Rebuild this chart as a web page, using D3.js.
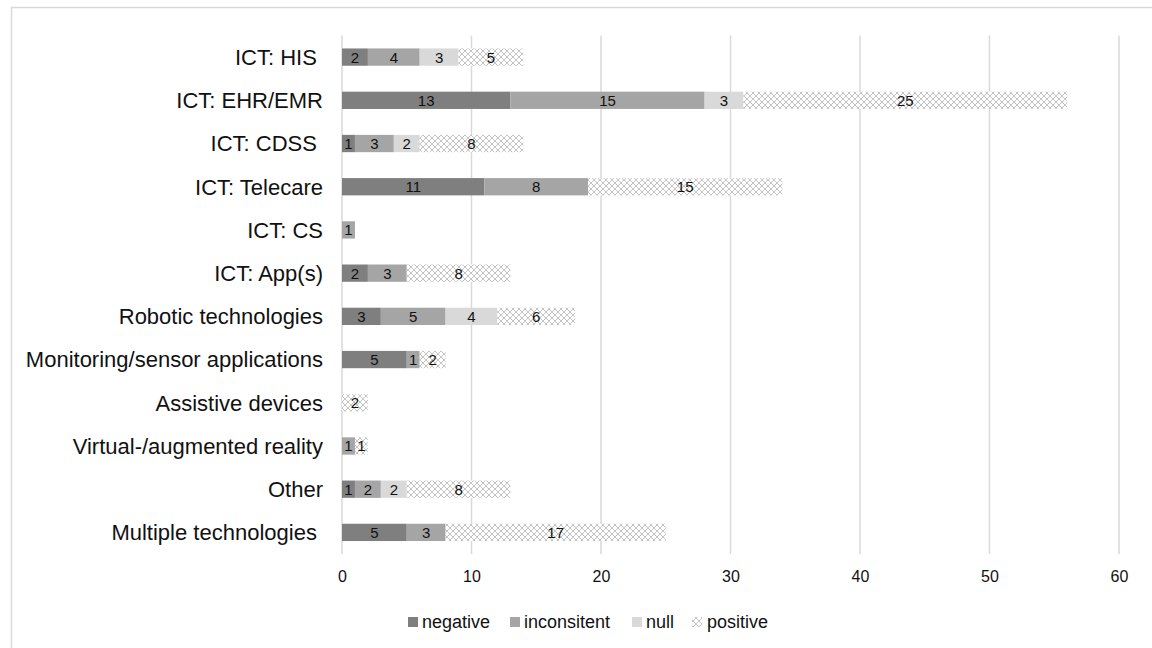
<!DOCTYPE html>
<html>
<head>
<meta charset="utf-8">
<script src="https://cdn.jsdelivr.net/npm/d3@7"></script>
<style>
  html, body { margin: 0; padding: 0; background: #fff; }
  svg { display: block; font-family: "Liberation Sans", Arial, sans-serif; }
  text { white-space: pre; }
</style>
</head>
<body>
<svg id="chart" width="1152" height="648"></svg>
<script>
// Categories (top to bottom) and the count of findings per outcome
const categories = [
  "ICT: HIS ", "ICT: EHR/EMR", "ICT: CDSS ", "ICT: Telecare", "ICT: CS",
  "ICT: App(s)", "Robotic technologies", "Monitoring/sensor applications",
  "Assistive devices", "Virtual-/augmented reality", "Other", "Multiple technologies "
];
const seriesNames = ["negative", "inconsitent", "null", "positive"];
const negative    = [2, 13, 1, 11, 0, 2, 3, 5, 0, 0, 1, 5];
const inconsitent = [4, 15, 3, 8, 1, 3, 5, 1, 0, 1, 2, 3];
const nullVals    = [3, 3, 2, 0, 0, 0, 4, 0, 0, 0, 2, 0];
const positive    = [5, 25, 8, 15, 0, 8, 6, 2, 2, 1, 8, 17];
const xTicks = [0, 10, 20, 30, 40, 50, 60];

const svg = d3.select("#chart");
const W = 1152, H = 648;

// chart frame
svg.append("rect")
  .attr("x", 11.5).attr("y", 7.5)
  .attr("width", W + 20).attr("height", H + 20)
  .attr("fill", "#fff").attr("stroke", "#d9d9d9").attr("stroke-width", 1.5);

// fine hatch pattern used for the "positive" series
const defs = svg.append("defs");
const pat = defs.append("pattern")
  .attr("id", "posPattern").attr("patternUnits", "userSpaceOnUse")
  .attr("width", 6).attr("height", 6);
pat.append("rect").attr("width", 6).attr("height", 6).attr("fill", "#ffffff");
for (let i = 0; i < 6; i++) {
  pat.append("rect").attr("x", i).attr("y", i).attr("width", 1).attr("height", 1).attr("fill", "#c4c4c4");
  pat.append("rect").attr("x", 5 - i).attr("y", i).attr("width", 1).attr("height", 1).attr("fill", "#c4c4c4");
}

const fills = {
  negative: "#7f7f7f",
  inconsitent: "#a5a5a5",
  null: "#d9d9d9",
  positive: "url(#posPattern)"
};

const plot = { left: 342, right: 1119, top: 35.5, bottom: 554 };

const x = d3.scaleLinear().domain([0, 60]).range([plot.left, plot.right]);
const y = d3.scaleBand().domain(categories).range([plot.top, plot.bottom])
  .paddingInner(0.6).paddingOuter(0.3);

// vertical gridlines
svg.append("g").selectAll("line").data(xTicks.slice(1)).join("line")
  .attr("x1", d => x(d)).attr("x2", d => x(d))
  .attr("y1", plot.top).attr("y2", plot.bottom)
  .attr("stroke", "#d9d9d9").attr("stroke-width", 1.5);

// category axis line
svg.append("line")
  .attr("x1", x(0)).attr("x2", x(0))
  .attr("y1", plot.top).attr("y2", plot.bottom)
  .attr("stroke", "#d9d9d9").attr("stroke-width", 1.5);

// stacked data
const rows = categories.map((c, i) => ({
  category: c,
  negative: negative[i], inconsitent: inconsitent[i], null: nullVals[i], positive: positive[i]
}));
const stacked = d3.stack().keys(seriesNames)(rows);

const layers = svg.append("g").selectAll("g").data(stacked).join("g")
  .attr("fill", d => fills[d.key]);

layers.selectAll("rect").data(d => d).join("rect")
  .attr("x", d => x(d[0]))
  .attr("y", d => y(d.data.category))
  .attr("width", d => x(d[1]) - x(d[0]))
  .attr("height", y.bandwidth());

// value labels centred in each segment
const labelG = svg.append("g");
stacked.forEach(layer => {
  labelG.selectAll(null).data(layer.filter(d => d[1] - d[0] > 0)).join("text")
    .attr("x", d => (x(d[0]) + x(d[1])) / 2)
    .attr("y", d => y(d.data.category) + y.bandwidth() / 2)
    .attr("dy", "0.36em")
    .attr("text-anchor", "middle")
    .attr("font-size", 15)
    .attr("fill", "#111")
    .text(d => d[1] - d[0]);
});

// category labels
svg.append("g").selectAll("text").data(categories).join("text")
  .attr("x", 323)
  .attr("y", d => y(d) + y.bandwidth() / 2)
  .attr("dy", "0.36em")
  .attr("text-anchor", "end")
  .attr("font-size", 22)
  .attr("fill", "#111")
  .text(d => d);

// value axis labels
const xAxis = d3.axisBottom(x).tickValues(xTicks).tickSize(0).tickPadding(0);
const axG = svg.append("g").attr("transform", `translate(0, ${plot.bottom})`).call(xAxis);
axG.select(".domain").remove();
axG.selectAll("text")
  .attr("y", 28).attr("dy", 0)
  .attr("font-size", 16)
  .attr("font-family", "Liberation Sans, Arial, sans-serif")
  .attr("fill", "#111");

// legend
const legendItems = [
  { key: "negative", sx: 408, tx: 422 },
  { key: "inconsitent", sx: 510, tx: 524 },
  { key: "null", sx: 632, tx: 646 },
  { key: "positive", sx: 692, tx: 707 }
];
const lg = svg.append("g");
legendItems.forEach(it => {
  lg.append("rect").attr("x", it.sx).attr("y", 617).attr("width", 10).attr("height", 10)
    .attr("fill", fills[it.key]);
  lg.append("text").attr("x", it.tx).attr("y", 628)
    .attr("font-size", 18).attr("fill", "#111").text(it.key);
});
</script>
</body>
</html>
